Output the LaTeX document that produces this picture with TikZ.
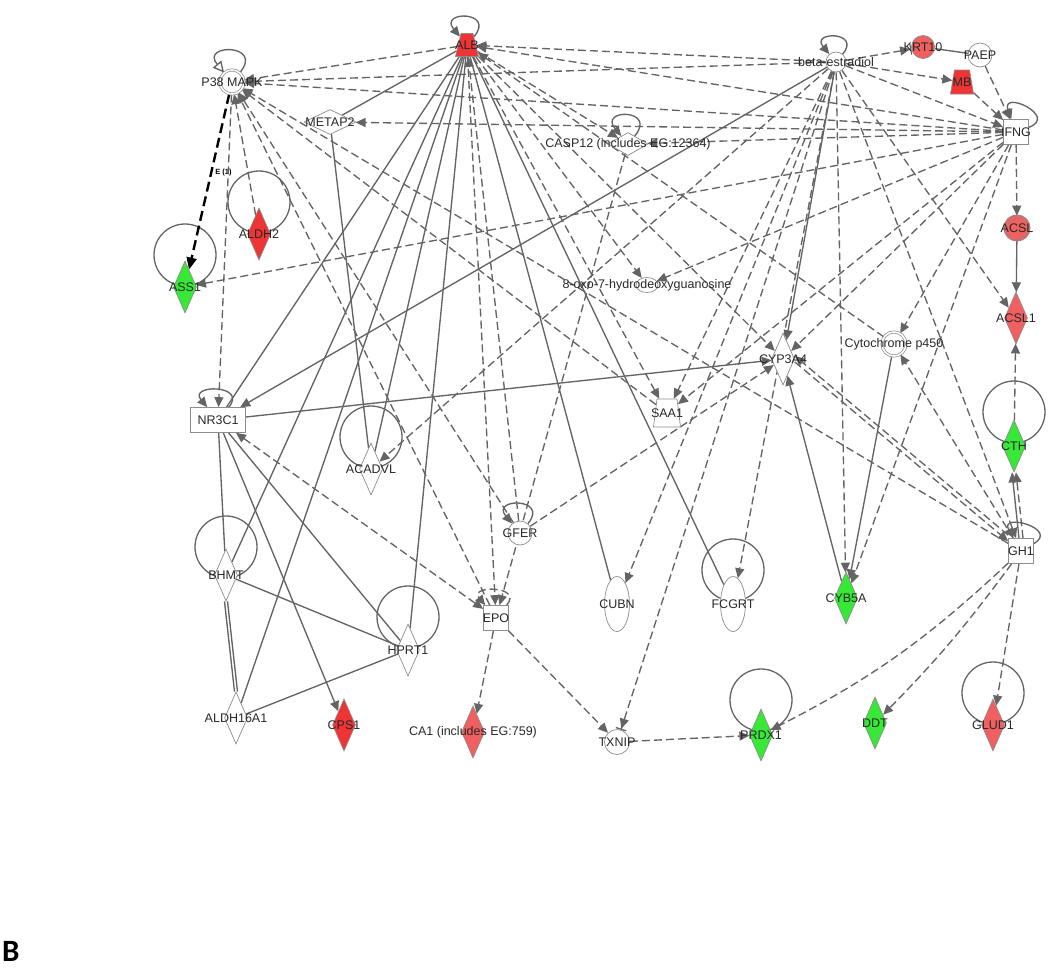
\documentclass[tikz,border=0pt]{standalone}
\usepackage{fontspec}
\setmainfont{Liberation Sans}
\newfontfamily\panelfont{Carlito}
\usetikzlibrary{arrows.meta,shapes.geometric,backgrounds}

\definecolor{edgegray}{RGB}{100,100,100}
\definecolor{rimgray}{RGB}{140,140,140}
\definecolor{labgray}{RGB}{40,40,40}
\definecolor{upred}{RGB}{238,52,52}
\definecolor{upredlt}{RGB}{240,96,96}
\definecolor{downgreen}{RGB}{55,232,55}

\begin{document}
\begin{tikzpicture}[
  x=1pt, y=-1pt,
  every loop/.style={},
  lbl/.style={font=\fontsize{12.5}{14}\selectfont, text=labgray, inner sep=0pt},
  mol/.style={draw=rimgray, line width=0.7pt, fill=white, inner sep=0pt},
  enz/.style={mol, diamond, minimum width=23pt, minimum height=52pt, label={[lbl]center:{#1}}},
  pep/.style={mol, diamond, minimum width=52pt, minimum height=25pt, label={[lbl]center:{#1}}},
  cyto/.style={mol, rectangle, minimum size=25pt, label={[lbl]center:{#1}}},
  oth/.style={mol, circle, minimum size=24pt, label={[lbl]center:{#1}}},
  grp/.style={oth={#1}, double=white, double distance=1.6pt},
  cyl/.style={mol, ellipse, minimum width=25pt, minimum height=55pt, label={[lbl]center:{#1}}},
  chem/.style={mol, ellipse, minimum width=22pt, minimum height=15pt, label={[lbl]center:{#1}}},
  trap/.style={mol, trapezium, trapezium left angle=65, trapezium right angle=65,
    trapezium stretches=true, inner sep=1pt, minimum width=23pt, minimum height=23pt,
    label={[lbl]center:{#1}}},
  rel/.style={draw=edgegray, line width=1.35pt},
  ind/.style={rel, dash pattern=on 8pt off 4pt},
  act/.style={-{Triangle[length=10pt,width=9pt]}},
  actinh/.style={-{Triangle[length=10pt,width=9pt] Bar[width=11pt,line width=1.2pt]}},
  both/.style={{Triangle[length=10pt,width=9pt]}-{Triangle[length=10pt,width=9pt]}},
  ring/.style={draw=edgegray, line width=1.3pt},
  selfl/.style={loop, out=50, in=130, min distance=#1}]
  \useasboundingbox (0,0) rectangle (1050,970);

  % molecules
  \node[grp=P38 MAPK] (p38) at (232,82) {};
  \node[trap=ALB, fill=upred] (alb) at (467,45) {\phantom{\rule{1pt}{1pt}}};
  \node[oth=beta-estradiol, minimum size=20pt] (betae) at (836,62) {};
  \node[oth=KRT10, fill=upredlt, minimum size=23pt] (krt10) at (923,47) {};
  \node[oth=PAEP] (paep) at (980,55) {};
  \node[trap=MB, fill=upred, minimum height=24pt, trapezium left angle=75, trapezium right angle=75] (mb) at (962,82) {\phantom{\rule{1pt}{1pt}}};
  \node[cyto=IFNG] (ifng) at (1016,132) {};
  \node[grp=ACSL, fill=upredlt, double=upredlt] (acsl) at (1017,228) {};
  \node[enz=ACSL1, fill=upredlt] (acsl1) at (1016,318) {};
  \node[grp=Cytochrome p450] (cytp) at (894,344) {};
  \node[enz=CYP3A4] (cyp) at (783,359) {};
  \node[pep=METAP2] (metap2) at (330,122) {};
  \node[pep={CASP12 (includes EG:12364)}, minimum width=40pt, minimum height=23pt] (casp12) at (628,144) {};
  \node[chem=8-oxo-7-hydrodeoxyguanosine] (oxo) at (647,285) {};
  \node[enz=ALDH2, fill=upred] (aldh2) at (259,234) {};
  \node[enz=ASS1, fill=downgreen] (ass1) at (185,287) {};
  \node[mol, rectangle, minimum width=55pt, minimum height=25pt, lbl] (nr3c1) at (218,420) {NR3C1};
  \node[enz=ACADVL] (acadvl) at (371,469) {};
  \node[trap=SAA1, minimum width=27pt, minimum height=28pt, trapezium left angle=80, trapezium right angle=80] (saa1) at (667,413) {\phantom{\rule{1pt}{1pt}}};
  \node[oth=GFER] (gfer) at (520,533) {};
  \node[cyto=EPO] (epo) at (496,618) {};
  \node[cyl=CUBN] (cubn) at (617,604) {};
  \node[cyl=FCGRT] (fcgrt) at (733,604) {};
  \node[enz=CYB5A, fill=downgreen] (cyb5a) at (846,598) {};
  \node[cyto=GH1] (gh1) at (1021,551) {};
  \node[enz=CTH, fill=downgreen] (cth) at (1014,446) {};
  \node[enz=BHMT] (bhmt) at (226,575) {};
  \node[enz=HPRT1] (hprt1) at (408,650) {};
  \node[enz=ALDH16A1] (aldh16a1) at (236,718) {};
  \node[enz=CPS1, fill=upred] (cps1) at (344,725) {};
  \node[enz={CA1 (includes EG:759)}, fill=upredlt] (ca1) at (473,732) {};
  \node[oth=TXNIP, minimum size=25pt] (txnip) at (617,742) {};
  \node[enz=PRDX1, fill=downgreen] (prdx1) at (761,735) {};
  \node[enz=DDT, fill=downgreen] (ddt) at (875,723) {};
  \node[enz=GLUD1, fill=upredlt] (glud1) at (993,725) {};
  \node[font=\panelfont\bfseries\fontsize{31}{33}\selectfont, anchor=base west, inner sep=0pt] (panel) at (2,961) {B};

  \begin{scope}[on background layer]
  % self rings
  \draw[ring] (aldh2) ++(0,-32) circle[radius=31pt];
  \draw[ring] (ass1) ++(0,-32) circle[radius=31pt];
  \draw[ring] (acadvl) ++(0,-32) circle[radius=31pt];
  \draw[ring] (bhmt) ++(0,-28) circle[radius=31pt];
  \draw[ring] (hprt1) ++(0,-33) circle[radius=31pt];
  \draw[ring] (fcgrt) ++(0,-34) circle[radius=31pt];
  \draw[ring] (cth) ++(0,-34) circle[radius=31pt];
  \draw[ring] (prdx1) ++(0,-35) circle[radius=31pt];
  \draw[ring] (glud1) ++(0,-32) circle[radius=31pt];
  % self loops
  \draw[rel,-{Triangle[open,length=11pt,width=11pt]}] (p38) to[selfl=38pt] (p38);
  \draw[rel,act] (alb) to[selfl=34pt] (alb);
  \draw[rel,act] (betae) to[selfl=30pt] (betae);
  \draw[rel,act] (casp12) to[selfl=36pt] (casp12);
  \draw[rel,act] (ifng) to[selfl=32pt, out=20, in=110] (ifng);
  \draw[rel,act] (gh1) to[selfl=30pt, out=30, in=120] (gh1);
  \draw[rel,act] (nr3c1) to[selfl=30pt] (nr3c1);
  \draw[rel,act] (gfer) to[selfl=34pt] (gfer);
  \draw[ind,act] (epo) to[selfl=26pt] (epo);

  % ALB
  \draw[ind,act] (alb) -- (p38);
  \draw[ind,act] (betae) -- (alb);
  \draw[ind,act] (ifng) -- (alb);
  \draw[ind,act] (alb) -- (casp12);
  \draw[rel] (alb) -- (nr3c1);
  \draw[rel] (alb) -- (metap2);
  \draw[rel] (alb) -- (bhmt);
  \draw[rel] (alb) -- (aldh16a1);
  \draw[rel] (alb) -- (hprt1);
  \draw[rel] (alb) -- (acadvl);
  \draw[rel] (alb) -- (cubn);
  \draw[rel] (alb) -- (fcgrt);
  \draw[ind,act] (alb) -- (epo);
  \draw[ind,act] (gfer) -- (alb);
  \draw[ind,act] (alb) -- (saa1);
  \draw[ind,act] (alb) -- (oxo);
  \draw[ind,act] (alb) -- (cyp);
  \draw[ind,act] (cytp) -- (alb);

  % beta-estradiol
  \draw[ind,act] (betae) -- (p38);
  \draw[ind,actinh] (betae) -- (krt10);
  \draw[ind,act] (betae) -- (mb);
  \draw[ind,act] (betae) -- (ifng);
  \draw[rel,act] (betae) -- (nr3c1);
  \draw[rel,act] (betae) -- (cyp);
  \draw[ind,act] (betae) -- (cyb5a);
  \draw[ind,act] (betae) -- (acsl1);
  \draw[ind,act] (betae) -- (gh1);
  \draw[ind,actinh] (betae) -- (txnip);
  \draw[ind,act] (betae) -- (cubn);
  \draw[ind,act] (betae) -- (fcgrt);
  \draw[ind,act] (betae) -- (saa1);
  \draw[ind,act] (betae) -- (acadvl);

  % IFNG
  \draw[ind,act] (ifng) -- (p38);
  \draw[ind,act] (ifng) -- (metap2);
  \draw[ind,act] (ifng) -- (casp12);
  \draw[ind,act] (ifng) -- (ass1);
  \draw[ind,act] (ifng) -- (oxo);
  \draw[ind,act] (ifng) -- (saa1);
  \draw[ind,act] (ifng) -- (cyp);
  \draw[ind,act] (ifng) -- (cytp);
  \draw[ind,act] (ifng) -- (cyb5a);
  \draw[ind,act] (ifng) -- (acsl);
  \draw[ind,act] (mb) -- (ifng);
  \draw[ind,act] (paep) -- (ifng);
  \draw[rel] (krt10) -- (paep);

  % P38 MAPK
  \draw[ind, draw=black, line width=2.4pt, dash pattern=on 10pt off 5pt, -{Triangle[length=12pt,width=10pt]}]
    (p38) -- node[pos=0.45, right=3pt, font=\fontsize{7.5}{8}\selectfont\bfseries, text=black, inner sep=0pt] (elabel) {E (1)} (ass1);
  \draw[ind,act] (p38) -- (nr3c1);
  \draw[ind,act] (aldh2) -- (p38);
  \draw[ind,act] (epo) -- (p38);
  \draw[ind,act] (gh1) -- (p38);
  \draw[ind,act] (gfer) -- (p38);
  \draw[ind,act] (saa1) -- (p38);

  % GH1 and the rest
  \draw[ind,act] ([yshift=3pt]gh1.north west) -- ([yshift=3pt]cyp.east);
  \draw[ind,act] ([yshift=-3pt]cyp.east) -- ([yshift=-3pt]gh1.north west);
  \draw[ind,act] (gh1) -- (cytp);
  \draw[rel,act] ([xshift=-2pt]gh1.north) -- ([xshift=-2pt]cth.south);
  \draw[ind,act] ([xshift=2pt]gh1.north) -- ([xshift=2pt]cth.south);
  \draw[ind,act] (cth) -- (acsl1);
  \draw[rel,act] (acsl) -- (acsl1);
  \draw[ind,act] (gh1) to[bend left=8] (prdx1);
  \draw[ind,act] (gh1) to[bend left=4] (ddt);
  \draw[ind,act] (gh1) -- (glud1);
  \draw[rel,act] (cyb5a) -- (cyp);
  \draw[rel,act] (cytp) -- (cyb5a);
  \draw[rel,act] (nr3c1) -- (cyp);
  \draw[ind,both] (nr3c1) -- (epo);
  \draw[rel] (nr3c1) -- (bhmt);
  \draw[rel] ([xshift=-1.5pt]bhmt.south) -- ([xshift=-1.5pt]aldh16a1.north);
  \draw[rel] ([xshift=1.5pt]bhmt.south) -- ([xshift=1.5pt]aldh16a1.north);
  \draw[rel] (nr3c1) -- (hprt1);
  \draw[rel,act] (nr3c1) -- (cps1);
  \draw[rel] (bhmt) -- (hprt1);
  \draw[rel] (aldh16a1) -- (hprt1);
  \draw[rel] (metap2) -- (acadvl);
  \draw[ind,act] (gfer) -- (cyp);
  \draw[ind,act] (casp12) -- (epo);
  \draw[ind,act] (epo) -- (ca1);
  \draw[ind,act] (epo) -- (txnip);
  \draw[ind,act] (txnip) -- (prdx1);
  \end{scope}
\end{tikzpicture}
\end{document}
